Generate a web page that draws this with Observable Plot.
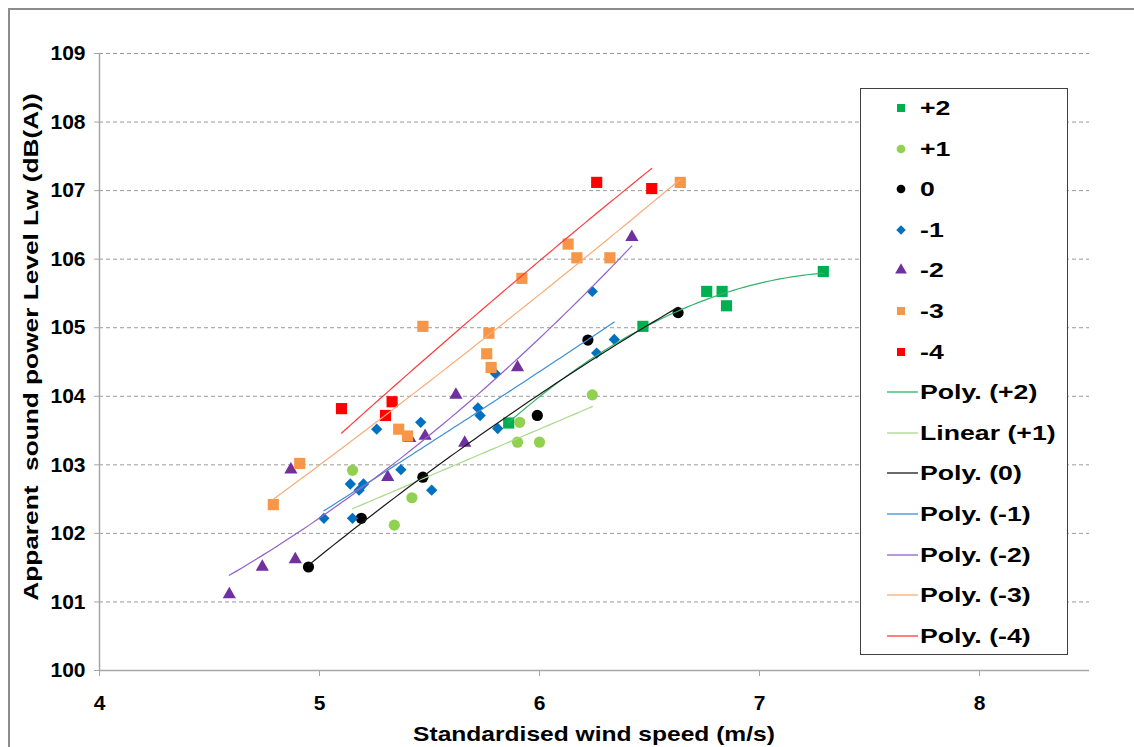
<!DOCTYPE html>
<html><head><meta charset="utf-8">
<script src="https://cdn.jsdelivr.net/npm/d3@7"></script>
<script src="https://cdn.jsdelivr.net/npm/@observablehq/plot@0.6"></script>
<style>
body{margin:0;background:#fff;font-family:"Liberation Sans",Arial,sans-serif;}
#wrap{position:relative;width:1134px;height:747px;overflow:hidden;background:#fff;}
#frame{position:absolute;left:8px;top:8px;width:1200px;height:800px;border-left:2px solid #8c8c8c;border-top:2px solid #8c8c8c;box-sizing:border-box;}
#chart{position:absolute;left:0;top:0;}
#chart svg text{font-weight:bold !important;font-size:21px !important;fill:#000;}
.title{position:absolute;font-weight:bold;font-size:21px;color:#000;white-space:pre;line-height:24px;}
#xt{left:594px;top:722px;transform:translateX(-50%) scaleX(1.17);}
#yt{left:31px;top:347px;transform:translate(-50%,-50%) rotate(-90deg) scaleX(1.25);}
#legend{position:absolute;left:860px;top:88px;width:208px;height:567px;border:1.5px solid #404040;background:#fff;box-sizing:border-box;}
.row{position:absolute;left:0;height:30px;width:206px;}
.row svg{position:absolute;left:24px;top:0;}
.row span{position:absolute;left:59px;top:3px;font-weight:bold;font-size:21px;line-height:24px;white-space:pre;transform:scaleX(1.27);transform-origin:0 50%;}
</style></head>
<body>
<div id="wrap">
<div id="frame"></div>
<div id="chart"></div>
<div class="title" id="xt">Standardised wind speed (m/s)</div>
<div class="title" id="yt">Apparent  sound power Level Lw (dB(A))</div>
<div id="legend"></div>
</div>
<script>
// ---- data ----
const xTicks = [4, 5, 6, 7, 8];
const yTicks = [100, 101, 102, 103, 104, 105, 106, 107, 108, 109];

const seriesNames = ["+2", "+1", "0", "-1", "-2", "-3", "-4"];
const trendNames = ["Poly. (+2)", "Linear (+1)", "Poly. (0)", "Poly. (-1)", "Poly. (-2)", "Poly. (-3)", "Poly. (-4)"];

const xP2 = [5.86, 6.47, 6.76, 6.83, 6.85, 7.29];
const yP2 = [103.61, 105.02, 105.53, 105.53, 105.32, 105.82];
const xP1 = [5.15, 5.34, 5.42, 5.90, 5.91, 6.00, 6.24];
const yP1 = [102.92, 102.12, 102.52, 103.33, 103.62, 103.33, 104.02];
const x0 = [4.95, 5.19, 5.47, 5.99, 6.22, 6.63];
const y0 = [101.51, 102.22, 102.82, 103.72, 104.82, 105.22];
const xM1 = [5.02, 5.14, 5.15, 5.18, 5.20, 5.26, 5.37, 5.46, 5.51, 5.72, 5.73, 5.81, 5.80, 6.24, 6.26, 6.34];
const yM1 = [102.22, 102.72, 102.22, 102.63, 102.72, 103.52, 102.93, 103.62, 102.63, 103.83, 103.72, 103.53, 104.33, 105.53, 104.63, 104.83];
const xM2 = [4.59, 4.74, 4.89, 4.87, 5.31, 5.41, 5.48, 5.62, 5.66, 5.90, 6.42];
const yM2 = [101.11, 101.51, 101.62, 102.93, 102.82, 103.39, 103.42, 104.02, 103.32, 104.42, 106.32];
const xM3 = [4.79, 4.91, 5.36, 5.40, 5.47, 5.77, 5.76, 5.78, 5.92, 6.13, 6.17, 6.32, 6.64];
const yM3 = [102.42, 103.02, 103.52, 103.42, 105.02, 104.92, 104.62, 104.42, 105.72, 106.22, 106.02, 106.02, 107.12];
const xM4 = [5.10, 5.30, 5.33, 6.26, 6.51];
const yM4 = [103.82, 103.72, 103.92, 107.12, 107.03];

const xs = [xP2, xP1, x0, xM1, xM2, xM3, xM4];
const ys = [yP2, yP1, y0, yM1, yM2, yM3, yM4];
const trendDegree = [2, 1, 2, 2, 2, 2, 2];

// ---- styles ----
const markColor = ["#00b050", "#92d050", "#000000", "#0070c0", "#7030a0", "#f79646", "#ff0000"];
const lineColor = ["#2fb56a", "#a9d98a", "#1a1a1a", "#3d8fd6", "#9460c8", "#f9ad78", "#ff3b3b"];
const symbols = ["square", "circle", "circle", "diamond2", "triangle", "square", "square"];
const radius = [6.3, 5.6, 5.6, 5.1, 4.9, 6.3, 6.3];

// least-squares polynomial fit (as the spreadsheet trendline does)
function polyfit(X, Y, deg) {
  const n = deg + 1;
  const A = Array.from({length: n}, () => new Array(n + 1).fill(0));
  for (let k = 0; k < X.length; k++) {
    for (let i = 0; i < n; i++) {
      for (let j = 0; j < n; j++) A[i][j] += Math.pow(X[k], i + j);
      A[i][n] += Y[k] * Math.pow(X[k], i);
    }
  }
  for (let i = 0; i < n; i++) {
    let p = i;
    for (let r = i + 1; r < n; r++) if (Math.abs(A[r][i]) > Math.abs(A[p][i])) p = r;
    [A[i], A[p]] = [A[p], A[i]];
    for (let r = 0; r < n; r++) {
      if (r === i) continue;
      const f = A[r][i] / A[i][i];
      for (let c = i; c <= n; c++) A[r][c] -= f * A[i][c];
    }
  }
  return A.map((row, i) => row[n] / row[i]);
}

const marks = [
  Plot.gridY(yTicks.slice(1), {stroke: "#9a9a9a", strokeOpacity: 1, strokeDasharray: "4,3", strokeWidth: 1}),
  Plot.axisY({ticks: yTicks, tickSize: 5, tickPadding: 9, stroke: "#a6a6a6", label: null, tickFormat: d3.format("d"), fontSize: 21, fontWeight: "bold"}),
  Plot.axisX({ticks: xTicks, tickSize: 6, tickPadding: 19, stroke: "#a6a6a6", label: null, tickFormat: d3.format("d"), fontSize: 21, fontWeight: "bold"}),
  Plot.ruleX([4], {stroke: "#a6a6a6", strokeWidth: 1.5}),
  Plot.ruleY([100], {stroke: "#a6a6a6", strokeWidth: 1.5})
];

// markers
xs.forEach((X, s) => {
  const data = X.map((x, i) => ({x, y: ys[s][i]}));
  marks.push(Plot.dot(data, {x: "x", y: "y", symbol: () => symbols[s], r: radius[s], fill: markColor[s], stroke: "none"}));
});

// trend lines
xs.forEach((X, s) => {
  const c = polyfit(X, ys[s], trendDegree[s]);
  const lo = d3.min(X), hi = d3.max(X);
  const pts = d3.range(0, 61).map(i => {
    const x = lo + (hi - lo) * i / 60;
    return {x, y: c.reduce((a, ci, k) => a + ci * Math.pow(x, k), 0)};
  });
  marks.push(Plot.line(pts, {x: "x", y: "y", stroke: lineColor[s], strokeWidth: 1.2}));
});

const chart = Plot.plot({
  width: 1134, height: 747,
  marginLeft: 99, marginRight: 45, marginTop: 53, marginBottom: 77,
  x: {domain: [4, 8.5]},
  y: {domain: [100, 109]},
  symbol: {type: "identity"},
  style: {fontFamily: "'Liberation Sans', Arial, sans-serif", background: "transparent", overflow: "visible", fontSize: "21px", fontWeight: "bold"},
  marks
});
document.getElementById("chart").appendChild(chart);

// legend
const legend = document.getElementById("legend");
const rowTop = 4, rowStep = 40.6;
const entries = seriesNames.map((n, i) => ({type: "mark", i, label: n}))
  .concat(trendNames.map((n, i) => ({type: "line", i, label: n})));
entries.forEach((e, k) => {
  const row = document.createElement("div");
  row.className = "row";
  row.style.top = (rowTop + k * rowStep) + "px";
  const ns = "http://www.w3.org/2000/svg";
  const svg = document.createElementNS(ns, "svg");
  svg.setAttribute("width", 34); svg.setAttribute("height", 30);
  if (e.type === "mark") {
    const p = document.createElementNS(ns, "path");
    const sym = {square: d3.symbolSquare, circle: d3.symbolCircle, diamond2: d3.symbolDiamond2, triangle: d3.symbolTriangle}[symbols[e.i]];
    const size = {square: 64, circle: 60, diamond2: 58, triangle: 60}[symbols[e.i]];
    p.setAttribute("d", d3.symbol(sym, size)());
    p.setAttribute("transform", "translate(16,15)");
    p.setAttribute("fill", markColor[e.i]);
    svg.appendChild(p);
  } else {
    const l = document.createElementNS(ns, "line");
    l.setAttribute("x1", 2); l.setAttribute("x2", 33); l.setAttribute("y1", 15); l.setAttribute("y2", 15);
    l.setAttribute("stroke", lineColor[e.i]); l.setAttribute("stroke-width", 1.3);
    svg.appendChild(l);
  }
  row.appendChild(svg);
  const sp = document.createElement("span");
  sp.textContent = e.label;
  row.appendChild(sp);
  legend.appendChild(row);
});
</script>
</body></html>
